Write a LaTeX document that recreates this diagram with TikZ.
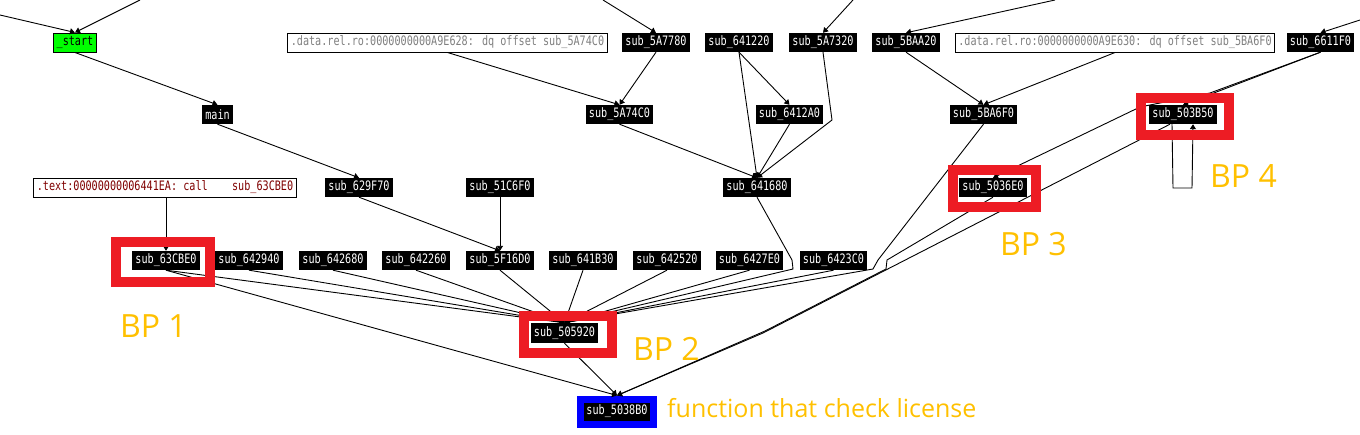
\documentclass[tikz,border=0pt]{standalone}
\usepackage{fontspec}
\usetikzlibrary{arrows.meta}
\newfontfamily\idafont[FakeStretch=0.78]{DejaVu Sans Mono}
\newfontfamily\notefont{Open Sans}
\definecolor{bpred}{RGB}{237,28,36}
\definecolor{bporange}{RGB}{255,192,0}
\definecolor{cmtred}{RGB}{128,0,0}
\definecolor{startgreen}{RGB}{0,255,0}
\tikzset{
  fn/.style={fill=black, text=white, font=\idafont\fontsize{13}{14}\selectfont, inner xsep=3pt, inner ysep=0pt, minimum height=19pt},
  cmt/.style={fn, fill=white, draw=black, line width=1pt, text=gray},
  call/.style={draw, line width=0.9pt, -{Triangle[length=5pt,width=6pt]}},
  bpbox/.style={draw=bpred, line width=10pt},
  bp/.style={text=bporange, font=\notefont\fontsize{32}{36}\selectfont, inner sep=0pt, anchor=base west},
}
\begin{document}
\begin{tikzpicture}[x=1pt, y=-1pt]
\useasboundingbox (0,0) rectangle (1360,434);
\node[fn, fill=startgreen, draw=black, line width=1pt, text=black] (start) at (75,42.5){\_start};
\node[cmt] (dataA) at (447.5,42.5){.data.rel.ro:0000000000A9E628: dq offset sub\_5A74C0};
\node[fn] (s5A7780) at (656,42.5){sub\_5A7780};
\node[fn] (s641220) at (739,42.5){sub\_641220};
\node[fn] (s5A7320) at (823,42.5){sub\_5A7320};
\node[fn] (s5BAA20) at (906,42.5){sub\_5BAA20};
\node[cmt] (dataB) at (1115,42.5){.data.rel.ro:0000000000A9E630: dq offset sub\_5BA6F0};
\node[fn] (s6611F0) at (1320.5,42.5){sub\_6611F0};
\node[fn] (main) at (217.5,114.5){main};
\node[fn] (s5A74C0) at (619.5,114.5){sub\_5A74C0};
\node[fn] (s6412A0) at (789.5,114.5){sub\_6412A0};
\node[fn] (s5BA6F0) at (983.5,114.5){sub\_5BA6F0};
\node[fn] (s503B50) at (1183,114.5){sub\_503B50};
\node[cmt, text=cmtred] (textbox) at (165,187.5){.text:00000000006441EA: call\ \ \ \ sub\_63CBE0};
\node[fn] (s629F70) at (359,187.5){sub\_629F70};
\node[fn] (s51C6F0) at (500,187.5){sub\_51C6F0};
\node[fn] (s641680) at (757,187.5){sub\_641680};
\node[fn] (s5036E0) at (993,187.5){sub\_5036E0};
\node[fn] (s63CBE0) at (166,260.5){sub\_63CBE0};
\node[fn] (s642940) at (249,260.5){sub\_642940};
\node[fn] (s642680) at (333,260.5){sub\_642680};
\node[fn] (s642260) at (416,260.5){sub\_642260};
\node[fn] (s5F16D0) at (500,260.5){sub\_5F16D0};
\node[fn] (s641B30) at (583,260.5){sub\_641B30};
\node[fn] (s642520) at (667,260.5){sub\_642520};
\node[fn] (s6427E0) at (749.5,260.5){sub\_6427E0};
\node[fn] (s6423C0) at (833.5,260.5){sub\_6423C0};
\node[fn, minimum height=20pt] (s505920) at (564.5,333){sub\_505920};
\node[fn, draw=blue, line width=7pt, inner xsep=6pt, minimum height=25pt] (s5038B0) at (617,411.5){sub\_5038B0};
\coordinate (inA) at (0,15);
\coordinate (inB) at (140,0);
\coordinate (inC) at (603,0);
\coordinate (inD) at (853,0);
\coordinate (inE) at (1055,0);
\coordinate (inF) at (1360,20);
\draw[call] (inA) -- (start.north);
\draw[call] (inB) -- (start.north);
\draw[call] (inC) -- (s5A7780.north);
\draw[call] (inD) -- (s5A7320.north);
\draw[call] (inE) -- (s5BAA20.north);
\draw[call] (inF) -- (s6611F0.north);
\draw[call] (start.south) -- (main.north);
\draw[call] (main.south) -- (s629F70.north);
\draw[call] (s629F70.south) -- (s5F16D0.north);
\draw[call] (s51C6F0.south) -- (s5F16D0.north);
\draw[call] (textbox.south -| s63CBE0.north) -- (s63CBE0.north);
\draw[call] (s5A7780.south) -- (s5A74C0.north);
\draw[call] (dataA.south) -- (s5A74C0.north);
\draw[call] (s5A74C0.south) -- (s641680.north);
\draw[call] (s641220.south) -- (s641680.north);
\draw[call] (s641220.south) -- (s6412A0.north);
\draw[call] (s6412A0.south) -- (s641680.north);
\draw[call] (s5A7320.south) -- (832,120) -- (s641680.north);
\draw[call] (s5BAA20.south) -- (s5BA6F0.north);
\draw[call] (dataB.south) -- (s5BA6F0.north);
\draw[call] (s6611F0.south) -- (s503B50.north);
\draw[call] (s6611F0.south) -- (1210,93) -- (1140,107) -- (s5036E0.north);
\draw[call] ([xshift=-11pt]s503B50.south) -- (1173,188) -- (1192,188) -- ([xshift=10pt]s503B50.south);
\draw[call] ([xshift=-13pt]s503B50.south) -- (763,333) -- (s5038B0.north);
\draw[call] (s5036E0.south) -- (887,260) -- (886,269) -- (765,331) -- (s5038B0.north);
\draw[call] (s5BA6F0.south) -- (878,260) -- (873,269) -- (s505920.north);
\draw[call] (s641680.south) -- (792,260) -- (793,269) -- (s505920.north);
\foreach \src in {s63CBE0,s642940,s642680,s642260,s5F16D0,s641B30,s642520,s6427E0,s6423C0}
  \draw[call] (\src.south) -- (s505920.north);
\draw[call] (s63CBE0.south) -- (s5038B0.north);
\draw[call] (s505920.south) -- (s5038B0.north);
\draw[bpbox] (116,242) rectangle (210,282);
\draw[bpbox] (524,316) rectangle (612,353);
\draw[bpbox] (953,170) rectangle (1036,207);
\draw[bpbox] (1141,98) rectangle (1229,135);
\node[bp] (bp1) at (120,337){BP 1};
\node[bp] (bp2) at (633,360){BP 2};
\node[bp] (bp3) at (1000,255){BP 3};
\node[bp] (bp4) at (1210,187){BP 4};
\node[bp, font=\notefont\fontsize{25}{30}\selectfont] (note) at (667,417){function that check license};
\end{tikzpicture}
\end{document}
